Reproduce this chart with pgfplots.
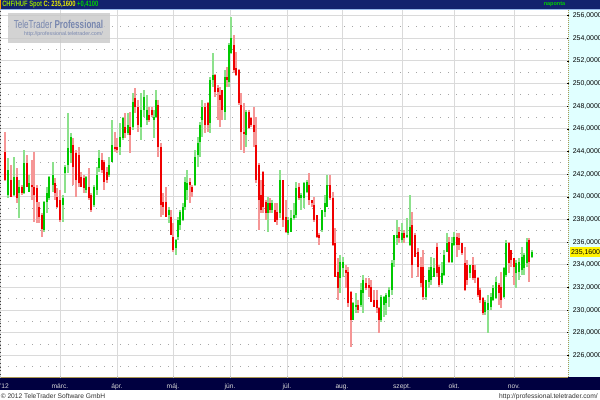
\documentclass[border=0pt]{standalone}
\usepackage{pgfplots}
\pgfplotsset{compat=1.18}
\usepackage{pgfplotstable}
\usepackage{fontspec}
\usepackage{graphicx}
\setmainfont{Liberation Sans}
\definecolor{navytop}{RGB}{18,34,110}
\definecolor{navybot}{RGB}{0,0,64}
\definecolor{panel}{RGB}{224,255,255}
\definecolor{gridgray}{RGB}{218,218,218}
\definecolor{dotgray}{RGB}{165,165,165}
\definecolor{rbody}{RGB}{240,0,0}
\definecolor{rwick}{RGB}{245,150,150}
\definecolor{gbody}{RGB}{0,200,0}
\definecolor{gwick}{RGB}{140,225,140}
\definecolor{wmtext}{RGB}{120,135,175}
\definecolor{wmbox}{RGB}{200,200,200}
\definecolor{tlime}{RGB}{150,220,0}
\definecolor{tyellow}{RGB}{235,235,0}
\definecolor{tgreen}{RGB}{0,210,0}
\definecolor{khaki}{RGB}{170,150,80}
\definecolor{lightline}{RGB}{150,185,235}
\definecolor{orangemark}{RGB}{255,150,0}
\definecolor{foottext}{RGB}{50,50,50}
\definecolor{monthtext}{RGB}{215,215,215}
\definecolor{xtickcol}{RGB}{190,190,190}

% up days (green): x  open high low close
\pgfplotstableread{
x o h l c
8 240.16 243.40 239.87 242.37
14 240.16 243.54 240.10 241.78
19 240.31 241.48 238.10 240.89
24 240.31 244.13 240.25 242.96
29 240.45 241.92 240.40 241.19
44 237.07 239.60 236.92 239.57
47 239.57 240.89 238.54 240.31
49 239.87 241.82 239.72 241.78
53 241.04 243.10 240.45 241.92
63 239.28 240.16 237.80 239.87
65 242.07 242.81 240.31 242.66
68 242.81 247.37 242.07 244.28
71 243.84 245.60 242.96 245.31
86 240.60 241.82 240.31 241.78
94 239.28 241.04 239.13 240.89
97 240.60 242.66 240.16 241.92
99 242.52 244.13 242.22 243.40
109 241.92 243.54 241.78 242.81
112 243.10 246.78 243.05 244.57
120 244.42 246.49 243.69 245.31
123 245.16 247.07 245.01 246.93
128 245.60 247.37 245.45 246.34
133 246.19 249.13 245.90 248.39
141 246.16 249.16 245.01 247.66
144 247.66 249.43 247.07 248.84
147 246.78 248.98 246.34 247.66
154 246.78 247.66 245.16 247.07
156 247.07 249.43 247.00 248.54
169 238.39 239.13 237.66 238.84
176 235.45 236.25 234.86 236.19
178 236.48 238.25 236.19 237.95
180 237.51 238.84 237.07 238.69
183 237.95 239.43 237.90 239.13
185 239.13 241.78 238.84 241.33
187 240.60 242.37 239.72 241.19
195 241.04 244.13 240.98 243.54
198 243.69 245.31 242.66 244.72
200 244.86 246.63 243.54 246.34
202 246.78 248.54 245.31 247.95
210 246.49 250.60 245.60 250.31
213 250.31 252.67 249.72 250.75
225 247.51 251.19 246.78 250.60
229 250.16 253.55 249.72 253.40
231 252.67 255.90 252.60 253.99
246 245.45 247.66 244.42 247.51
268 238.54 240.01 236.92 239.43
272 238.84 239.72 238.54 239.43
280 238.54 242.37 238.10 241.48
288 236.78 238.25 236.63 237.95
291 236.92 238.84 236.88 238.10
294 238.10 239.43 237.95 238.39
296 238.39 241.33 238.10 240.75
301 239.87 240.31 238.84 240.16
304 239.87 241.33 238.98 241.19
307 240.45 241.48 240.31 241.33
322 237.07 238.88 236.92 238.84
325 238.69 240.16 238.25 239.43
327 239.13 241.92 239.10 241.04
340 232.81 234.86 231.48 234.27
343 233.69 234.71 232.95 234.27
353 229.13 230.74 229.10 230.60
356 230.30 231.48 229.72 230.45
361 230.45 232.37 230.30 231.78
363 231.48 233.10 229.72 232.66
381 229.13 231.33 228.98 231.19
384 230.45 231.22 229.42 231.19
386 230.60 231.48 229.57 231.33
389 231.19 232.07 230.30 231.78
392 231.78 234.42 231.33 234.13
394 234.42 236.66 233.83 236.63
397 236.34 237.95 235.75 236.63
402 236.19 237.66 235.89 236.78
407 236.48 238.10 236.40 236.63
410 235.75 240.16 235.70 237.36
426 231.19 232.70 230.89 232.66
429 232.51 233.83 231.92 233.54
431 232.66 234.71 232.22 233.83
434 232.95 234.57 232.90 233.69
442 232.37 234.27 232.22 233.25
444 233.10 235.31 233.05 234.86
447 235.15 236.78 235.10 235.89
452 234.27 236.48 234.13 235.89
454 235.75 236.92 235.70 236.48
470 233.25 234.02 232.81 233.98
485 229.86 230.89 229.57 230.74
488 230.01 231.33 227.95 230.60
491 230.30 231.48 230.01 231.19
493 230.89 232.22 230.85 231.92
496 231.04 232.95 231.00 232.51
504 231.19 233.83 231.04 233.69
506 233.10 236.19 232.95 235.89
516 233.25 234.42 231.92 234.13
519 233.39 234.57 232.66 234.27
522 233.54 235.60 233.10 234.71
524 233.69 235.01 233.10 234.86
527 234.13 236.34 233.83 236.04
532 234.71 235.31 234.57 235.16
}\uptab

% down days (red): x open high low close
\pgfplotstableread{
x o h l c
5 243.98 245.75 241.40 241.48
11 241.48 242.81 239.95 240.01
17 241.78 242.52 239.43 239.87
22 240.89 241.04 240.16 240.31
27 242.96 243.69 240.85 240.89
32 241.04 243.25 239.72 240.84
34 240.89 243.98 237.80 240.16
37 240.75 241.04 237.66 239.57
39 239.13 239.57 237.66 238.25
42 238.39 238.54 236.48 237.19
55 241.19 241.63 239.72 240.31
57 240.01 240.75 239.05 239.13
60 239.72 240.60 237.80 237.95
73 244.57 245.16 241.04 242.66
76 243.84 244.13 240.01 241.48
79 243.69 244.42 240.89 241.19
81 241.78 242.22 240.85 240.89
84 241.63 241.92 240.31 240.75
89 240.89 242.52 239.72 239.87
91 240.16 240.31 238.69 238.84
102 243.25 243.84 242.07 242.37
104 243.10 243.25 240.60 241.33
107 242.22 242.66 241.19 241.48
115 244.42 245.75 243.98 244.28
117 244.42 245.16 243.84 244.13
125 246.19 247.37 245.16 245.60
130 246.19 247.51 243.84 245.45
135 248.69 249.58 247.37 247.95
138 247.95 248.54 245.75 246.34
149 247.22 247.95 246.63 246.78
152 247.66 247.95 247.07 247.22
158 248.10 248.54 243.54 244.42
161 244.42 244.72 238.25 239.28
163 239.57 240.31 238.39 239.13
166 239.57 240.89 238.20 238.25
171 238.25 238.84 236.60 236.63
173 236.48 237.66 235.15 235.31
190 241.33 241.63 239.43 241.04
192 240.89 241.04 240.01 240.45
205 247.95 248.25 245.60 246.34
208 248.25 248.39 245.75 246.34
215 250.75 250.80 248.84 249.28
218 249.58 249.87 246.78 249.28
220 248.98 249.72 246.19 248.54
222 249.43 249.45 246.78 247.66
227 250.60 251.48 249.72 250.31
234 253.40 254.28 250.90 251.19
236 251.34 252.81 250.70 250.75
239 251.19 251.25 248.10 248.25
241 248.10 249.13 244.13 245.75
244 245.75 248.25 243.84 245.60
249 247.51 247.66 246.00 246.04
251 246.93 247.07 246.19 246.34
254 246.34 247.95 244.42 245.75
256 244.57 247.07 241.19 241.48
259 242.81 242.96 237.07 239.72
261 240.16 241.48 238.54 238.84
263 242.22 242.25 238.54 239.13
266 239.57 239.72 237.95 238.54
270 239.43 239.87 238.54 238.84
275 238.84 239.43 237.75 237.80
277 238.69 239.43 237.51 237.95
283 241.48 241.52 237.36 237.95
286 238.25 239.72 236.78 236.92
299 240.89 241.19 239.72 239.87
309 241.04 242.07 239.28 239.72
312 239.72 239.75 239.13 239.43
314 239.28 240.01 237.80 237.95
317 238.39 238.42 236.34 236.48
319 236.63 236.78 235.75 236.34
330 241.04 241.92 239.72 239.87
333 239.87 240.45 235.70 235.75
335 235.89 237.22 232.90 232.95
338 233.39 234.57 230.89 231.92
346 233.54 233.98 231.92 233.25
348 233.39 233.83 230.30 230.60
351 231.62 231.65 226.77 229.13
358 230.45 230.89 229.72 230.01
366 232.37 232.81 231.78 231.92
369 232.22 232.81 231.19 231.92
371 232.07 232.66 230.70 230.74
374 230.89 231.78 230.25 230.30
377 230.89 231.78 229.72 230.16
379 230.16 230.30 227.95 229.13
399 236.92 237.36 235.89 236.34
404 236.78 237.07 235.89 236.34
412 237.51 238.69 232.81 233.98
415 236.63 236.78 234.65 234.71
418 235.15 235.45 232.95 233.83
421 233.83 234.71 232.07 232.37
423 233.83 235.31 230.89 231.19
437 235.60 235.89 232.95 233.25
439 233.83 233.98 232.07 232.22
449 236.04 236.48 234.13 234.27
457 236.48 236.78 234.71 235.75
459 236.34 236.78 235.31 235.75
462 235.89 235.92 234.86 235.01
465 234.13 235.60 231.72 231.78
467 233.98 234.42 232.22 232.66
473 233.98 234.71 232.66 232.81
475 233.54 233.98 232.37 232.81
478 232.81 232.95 231.19 231.33
480 231.78 231.92 230.60 230.89
483 231.04 231.19 229.57 229.72
499 232.22 232.37 230.45 231.48
501 232.07 233.39 230.16 230.89
509 235.89 236.04 233.25 234.13
511 235.31 235.35 233.83 234.42
514 234.57 234.60 232.22 233.83
529 236.19 236.34 232.51 234.27
}\downtab

\begin{document}
\begin{tikzpicture}
\useasboundingbox (0,0) rectangle (450pt,300pt);
% background pieces (image pixel coordinates, y downward)
\begin{scope}[x=0.75pt,y=-0.75pt,yshift=300pt]
  \fill[white] (0,0) rectangle (600,400);
  \fill[panel] (568,10) rectangle (600,377);
  \fill[navybot] (0,377.5) rectangle (600,390);
  \fill[khaki] (0,376.8) rectangle (568,378);
\end{scope}

\begin{axis}[
  at={(0pt,17.25pt)}, anchor=south west,
  scale only axis, width=426pt, height=275.25pt,
  xmin=0, xmax=568, ymin=224.10, ymax=256.49,
  axis line style={draw=none},
  xtick={0,60,117,173,230,287,342,402,454,514},
  xticklabels={\rlap{'12},márc.,ápr.,máj.,jún.,júl.,aug.,szept.,okt.,nov.},
  xtick pos=bottom, ytick pos=right,
  ytick={226,228,...,256},
  minor ytick={225,227,...,255},
  xmajorgrids, ymajorgrids, yminorgrids,
  major grid style={draw=gridgray, line width=0.75pt},
  minor grid style={draw=dotgray, line width=0.6pt, dash pattern=on 0.75pt off 5.25pt},
  major tick length=2pt, minor tick length=0pt,
  tick align=center,
  xtick style={draw=xtickcol},
  ytick style={draw=black, line width=0.5pt},
  yticklabel pos=right,
  yticklabel style={font=\fontsize{5.2}{6}\selectfont, anchor=west, inner sep=1pt, xshift=1.4pt},
  xticklabel style={font=\fontsize{5}{6}\selectfont, text=monthtext, anchor=base, yshift=-7.6pt},
  /pgf/number format/.cd, fixed, fixed zerofill, precision=4, use comma, 1000 sep={}, assume math mode=true,
]
% wicks
\addplot[draw=none, mark=none, forget plot,
  error bars/.cd, y dir=both, y explicit, error mark=none,
  error bar style={draw=gwick, line width=1.15pt}]
  table[x=x, y expr={(\thisrow{h}+\thisrow{l})/2}, y error expr={(\thisrow{h}-\thisrow{l})/2}] {\uptab};
\addplot[draw=none, mark=none, forget plot,
  error bars/.cd, y dir=both, y explicit, error mark=none,
  error bar style={draw=rwick, line width=1.15pt}]
  table[x=x, y expr={(\thisrow{h}+\thisrow{l})/2}, y error expr={(\thisrow{h}-\thisrow{l})/2}] {\downtab};
% bodies
\addplot[draw=none, mark=none, forget plot,
  error bars/.cd, y dir=both, y explicit, error mark=none,
  error bar style={draw=gbody, line width=1.5pt}]
  table[x=x, y expr={(\thisrow{o}+\thisrow{c})/2}, y error expr={(\thisrow{c}-\thisrow{o})/2}] {\uptab};
\addplot[draw=none, mark=none, forget plot,
  error bars/.cd, y dir=both, y explicit, error mark=none,
  error bar style={draw=rbody, line width=1.5pt}]
  table[x=x, y expr={(\thisrow{o}+\thisrow{c})/2}, y error expr={(\thisrow{o}-\thisrow{c})/2}] {\downtab};
\end{axis}

% foreground pieces
\begin{scope}[x=0.75pt,y=-0.75pt,yshift=300pt]
  % top bar
  \fill[navytop] (0,0) rectangle (600,8.6);
  \fill[lightline] (0,8.6) rectangle (600,10);
  \fill[orangemark] (0,0) rectangle (1.3,8.6);
  \node[anchor=west, inner sep=0pt] at (2,4.4)
    {\resizebox{72pt}{4.2pt}{\bfseries\textcolor{tlime}{CHF/HUF Spot} \textcolor{tyellow}{C: 235,1600} \textcolor{tgreen}{+0,4100}}};
  \node[anchor=center, inner sep=0pt] at (554.5,4.6)
    {\resizebox{16pt}{!}{\bfseries\textcolor{tgreen}{naponta}}};
  % borders
  \draw[khaki, line width=0.75pt, dash pattern=on 0.75pt off 0.75pt] (568.4,10) -- (568.4,377);
  \draw[black!75, line width=1pt, dash pattern=on 0.75pt off 2pt] (0.5,11) -- (0.5,376);
  % watermark
  \fill[wmbox, opacity=0.8] (8,13) rectangle (110,43);
  \node[anchor=center, inner sep=0pt] at (58.5,24)
    {\resizebox{67pt}{6.2pt}{\textcolor{wmtext}{TeleTrader \textbf{Professional}}}};
  \node[anchor=center, inner sep=0pt] at (63.5,34)
    {\resizebox{59pt}{!}{\textcolor{wmtext}{http://professional.teletrader.com/}}};
  % current value label
  \fill[yellow] (569.5,246.8) rectangle (600,257);
  \node[anchor=west, inner sep=0pt] at (570.8,252.1) {\fontsize{5.2}{6}\selectfont 235,1600};
  % footer
  \node[anchor=base west, inner sep=0pt, text=foottext] at (0.5,398)
    {\fontsize{5}{6}\selectfont © 2012 TeleTrader Software GmbH};
  \node[anchor=base east, inner sep=0pt, text=foottext] at (598,398)
    {\fontsize{5}{6}\selectfont http://professional.teletrader.com/};
\end{scope}
\end{tikzpicture}
\end{document}
